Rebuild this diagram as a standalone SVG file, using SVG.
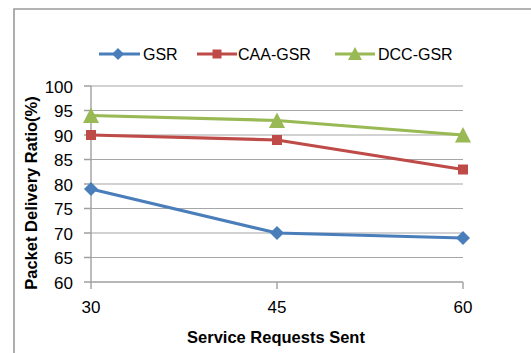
<svg xmlns="http://www.w3.org/2000/svg" width="531" height="353" viewBox="0 0 531 353">
<style>
text{font-family:"Liberation Sans",Arial,sans-serif;fill:#000}
.tick{font-size:17px}
.leg{font-size:16px}
.title{font-size:16.5px;font-weight:bold}
.grid{stroke:#a6a6a6;stroke-width:1.2;fill:none}
.axis{stroke:#a0a0a0;stroke-width:1.4;fill:none}
.s1{stroke:#4a7ebb;stroke-width:3.2;fill:none;stroke-linejoin:round}
.s2{stroke:#be4b48;stroke-width:3.2;fill:none;stroke-linejoin:round}
.s3{stroke:#98b954;stroke-width:3.2;fill:none;stroke-linejoin:round}
.m1{fill:#4a7ebb}
.m2{fill:#be4b48}
.m3{fill:#98b954}
</style>
<defs>
<path id="dia" d="M0,-7 L7,0 L0,7 L-7,0 Z"/>
<path id="sq" d="M-5,-5 H5 V5 H-5 Z"/>
<path id="tri" d="M0,-8 L8,7.5 L-8,7.5 Z"/>
<path id="diaS" d="M0,-6 L6,0 L0,6 L-6,0 Z"/>
<path id="sqS" d="M-4.5,-4.5 H4.5 V4.5 H-4.5 Z"/>
<path id="triS" d="M0,-7 L7,6 L-7,6 Z"/>
</defs>
<rect x="0" y="0" width="531" height="353" fill="#fff"/>
<path d="M14,360 V9 H540" fill="none" stroke="#9a9a9a" stroke-width="1.6"/>

<g id="grid">
<path class="grid" d="M91,86H463M91,110.5H463M91,135H463M91,159.5H463M91,184H463M91,208.5H463M91,233H463M91,257.5H463"/>
</g>
<g id="axes">
<path class="axis" d="M91,86V289M84,282H463M84,86H91M84,110.5H91M84,135H91M84,159.5H91M84,184H91M84,208.5H91M84,233H91M84,257.5H91M277,282V289M463,282V289"/>
</g>
<g id="ytick-labels" class="tick" text-anchor="end">
<text x="73" y="92.5">100</text>
<text x="73" y="117">95</text>
<text x="73" y="141.5">90</text>
<text x="73" y="166">85</text>
<text x="73" y="190.5">80</text>
<text x="73" y="215">75</text>
<text x="73" y="239.5">70</text>
<text x="73" y="264">65</text>
<text x="73" y="288.5">60</text>
</g>
<g id="xtick-labels" class="tick" text-anchor="middle">
<text x="91" y="313">30</text>
<text x="277" y="313">45</text>
<text x="463" y="313">60</text>
</g>
<text id="x-title" class="title" x="276" y="343" text-anchor="middle">Service Requests Sent</text>
<text id="y-title" class="title" transform="translate(37,193) rotate(-90)" text-anchor="middle">Packet Delivery Ratio(%)</text>

<g id="connectors">
<polyline id="GSR-line" class="s1" points="91,189 277,233 463,238"/>
<polyline id="CAA-GSR-line" class="s2" points="91,135 277,140 463,169.5"/>
<polyline id="DCC-GSR-line" class="s3" points="91,115.5 277,120.5 463,135"/>
</g>
<g id="GSR-markers" class="m1">
<use href="#dia" x="91" y="189"/>
<use href="#dia" x="277" y="233"/>
<use href="#dia" x="463" y="238"/>
</g>
<g id="CAA-GSR-markers" class="m2">
<use href="#sq" x="91" y="135"/>
<use href="#sq" x="277" y="140"/>
<use href="#sq" x="463" y="169.5"/>
</g>
<g id="DCC-GSR-markers" class="m3">
<use href="#tri" x="91" y="115.5"/>
<use href="#tri" x="277" y="120.5"/>
<use href="#tri" x="463" y="135"/>
</g>

<g id="legend" class="leg">
<g id="legend-GSR">
<path class="s1" d="M99,54H140"/>
<use href="#diaS" class="m1" x="118" y="54"/>
<text x="143" y="60">GSR</text>
</g>
<g id="legend-CAA-GSR">
<path class="s2" d="M197,54H237"/>
<use href="#sqS" class="m2" x="217" y="54"/>
<text x="238" y="60">CAA-GSR</text>
</g>
<g id="legend-DCC-GSR">
<path class="s3" d="M335,54H375"/>
<use href="#triS" class="m3" x="355" y="54"/>
<text x="378" y="60">DCC-GSR</text>
</g>
</g>
</svg>
